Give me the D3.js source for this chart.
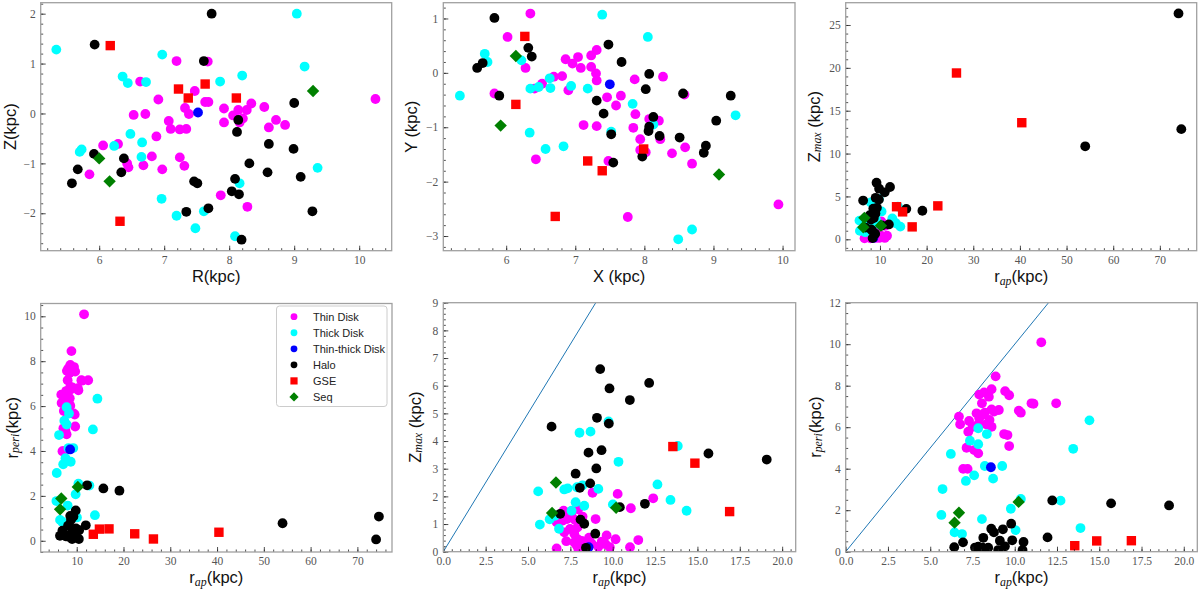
<!DOCTYPE html>
<html><head><meta charset="utf-8">
<script src="https://cdn.jsdelivr.net/npm/d3@7"></script>
<style>body{margin:0;background:#fff}svg{display:block}</style>
</head><body><svg id="c" width="1200" height="589"></svg>
<script>
// ---------- DATA: panel 1 (R, Z) ----------
const RZ_thin=[[7.19,1.05],[7.67,1.04],[6.63,0.64],[7.47,0.45],[6.91,0.28],[7.63,0.23],[7.68,0.23],[7.32,0.11],[7.92,0.10],[8.14,0.07],[8.27,0.07],[8.34,0.20],[8.54,0.13],[10.25,0.29],[6.53,-0.03],[6.71,-0.01],[7.38,-0.01],[8.06,-0.04],[8.21,-0.10],[8.16,-0.18],[7.07,-0.15],[7.10,-0.31],[7.24,-0.32],[7.34,-0.31],[7.92,-0.18],[8.61,-0.28],[8.72,-0.13],[8.86,-0.23],[6.88,-0.46],[6.06,-0.64],[6.29,-0.61],[6.81,-0.86],[7.24,-0.88],[6.43,-1.0],[6.45,-1.08],[6.68,-1.04],[7.31,-1.05],[6.97,-1.12],[5.85,-1.22],[7.87,-1.64],[8.28,-1.87]];
const RZ_thick=[[5.34,1.28],[6.97,1.18],[9.04,2.0],[9.16,0.94],[8.2,0.76],[7.86,0.64],[6.36,0.74],[6.44,0.61],[6.72,0.63],[6.48,-0.41],[6.66,-0.58],[6.23,-0.65],[5.73,-0.72],[5.70,-0.77],[6.65,-0.87],[9.36,-1.09],[8.16,-1.40],[6.96,-1.71],[7.19,-2.05],[7.61,-1.96],[7.48,-2.30],[8.09,-2.46]];
const RZ_tt=[[7.52,0.02]];
const RZ_halo=[[7.73,2.0],[5.93,1.38],[7.61,1.05],[9.0,0.21],[8.14,-0.13],[8.12,-0.37],[8.61,-0.61],[8.99,-0.71],[5.92,-0.81],[6.38,-0.90],[8.31,-1.0],[5.67,-1.12],[6.34,-1.18],[8.59,-1.18],[9.1,-1.27],[5.58,-1.40],[7.46,-1.36],[7.51,-1.40],[8.09,-1.31],[8.04,-1.56],[8.15,-1.62],[7.34,-1.97],[7.68,-1.90],[9.28,-1.96],[8.19,-2.53]];
const RZ_gse=[[6.17,1.36],[7.22,0.49],[7.37,0.31],[7.63,0.59],[8.11,0.31],[6.32,-2.16]];
const RZ_seq=[[6.0,-0.90],[6.16,-1.36],[9.29,0.45]];

// ---------- DATA: panel 2 (X, Y) ----------
const XY_thin=[[6.35,1.09],[6.02,0.66],[6.28,0.09],[5.83,-0.38],[6.41,-0.29],[6.52,-0.20],[6.69,-0.07],[6.81,-0.06],[6.86,0.25],[6.96,0.17],[6.90,-0.32],[7.04,0.29],[7.08,0.09],[7.23,0.32],[7.23,0.11],[7.31,0.42],[7.30,-0.01],[7.31,-0.14],[7.12,-0.96],[7.31,-0.98],[7.46,-0.45],[7.59,-0.60],[7.66,-0.42],[7.86,-0.12],[8.27,-0.07],[7.87,-0.76],[7.84,-1.01],[8.07,-0.85],[8.21,-0.88],[8.23,-1.22],[7.94,-1.22],[7.94,-1.42],[8.02,-1.46],[8.58,-0.40],[8.40,-1.48],[8.59,-1.37],[8.69,-1.67],[7.48,-1.62],[6.43,-1.59],[7.76,-2.65],[9.94,-2.42]];
const XY_thick=[[5.33,-0.42],[5.69,0.35],[5.73,0.20],[6.22,0.23],[6.35,-0.29],[6.47,-0.26],[6.63,-0.10],[6.64,-0.28],[6.94,-0.24],[7.18,-0.29],[7.39,1.07],[8.05,0.66],[7.83,-0.57],[8.13,-0.95],[9.32,-0.78],[6.34,-1.10],[6.57,-1.40],[6.83,-1.35],[7.52,-1.08],[8.49,-3.06],[8.69,-2.88]];
const XY_tt=[[7.50,-0.21]];
const XY_halo=[[5.83,1.01],[5.58,0.09],[5.66,0.18],[5.90,-0.42],[6.32,0.46],[6.37,0.30],[7.48,0.52],[7.67,0.20],[8.07,-0.02],[8.02,-0.30],[8.56,-0.38],[9.25,-0.42],[7.31,-0.51],[7.41,-0.75],[8.13,-0.81],[8.07,-0.99],[8.06,-1.07],[9.04,-0.88],[8.22,-1.16],[8.51,-1.19],[7.52,-1.13],[8.89,-1.34],[8.86,-1.47],[7.97,-1.54],[7.55,-1.65]];
const XY_gse=[[6.27,0.67],[6.14,-0.58],[7.18,-1.62],[7.39,-1.80],[7.99,-1.40],[6.71,-2.64]];
const XY_seq=[[6.14,0.31],[5.92,-0.97],[9.08,-1.87]];

// ---------- DATA: (r_ap, Z_max) panels 3 & 5 ----------
const ZM_thin=[[8.81,2.13],[10.29,2.09],[11.07,1.57],[12.39,1.93],[7.10,1.48],[7.53,1.42],[7.96,1.53],[6.69,1.06],[7.02,1.12],[7.30,1.18],[7.77,1.15],[7.48,0.82],[7.91,0.87],[7.14,0.70],[7.73,0.65],[8.99,1.18],[7.93,0.45],[8.60,0.51],[9.64,0.59],[7.26,0.38],[7.73,0.34],[8.17,0.39],[8.75,0.30],[9.35,0.36],[9.58,0.27],[10.17,0.45],[11.02,0.16],[11.51,0.42],[6.69,0.12],[7.96,0.12],[9.15,0.18],[9.83,0.16],[8.30,0.22],[8.50,0.35],[7.60,1.25],[8.22,1.27],[7.85,0.25]];
const ZM_thick=[[5.60,2.18],[5.70,0.98],[6.28,1.17],[6.59,1.30],[6.83,0.83],[7.14,2.25],[7.34,2.29],[7.57,1.48],[7.81,1.79],[7.89,2.33],[8.04,4.30],[8.69,4.34],[8.22,2.40],[8.32,1.66],[9.15,2.27],[9.75,4.71],[10.34,3.25],[10.01,1.71],[12.64,2.43],[13.41,1.87],[13.84,3.82],[14.36,1.48]];
const ZM_tt=[[8.58,0.16]];
const ZM_halo=[[9.26,6.60],[9.81,5.90],[12.15,6.10],[11.01,5.48],[9.07,4.84],[9.77,4.63],[6.39,4.52],[8.57,3.58],[9.34,3.67],[9.03,3.01],[15.65,3.55],[19.09,3.33],[7.81,2.82],[8.67,2.47],[8.06,2.31],[11.90,1.73],[10.42,1.61],[6.90,1.37],[8.10,1.16],[8.32,1.01],[8.97,0.65],[8.42,0.14],[54.0,10.85],[74.0,26.35],[74.6,12.85]];
const ZM_gse=[[13.55,3.8],[14.85,3.2],[16.9,1.45],[22.4,3.9],[26.4,19.4],[40.4,13.6]];
const ZM_seq=[[6.65,2.5],[6.42,1.40],[10.2,1.59]];

// ---------- DATA: (r_ap, r_peri) panels 4 & 6 ----------
const RP_thin=[[11.57,10.09],[8.87,8.45],[8.63,7.83],[7.90,7.57],[8.19,7.68],[8.47,7.47],[8.06,7.15],[9.43,7.74],[9.67,7.54],[10.99,7.15],[11.11,7.13],[12.45,7.15],[6.70,6.51],[6.77,6.14],[7.30,6.30],[7.74,6.67],[7.90,6.43],[8.07,6.59],[8.23,6.70],[8.63,6.86],[8.78,6.75],[9.06,6.83],[8.51,6.35],[8.63,6.02],[7.51,6.02],[7.25,5.78],[10.24,6.80],[10.36,6.70],[9.37,5.67],[9.57,5.62],[9.67,5.09],[7.15,5.01],[7.60,4.90],[7.84,4.74],[6.95,3.99],[7.21,3.99],[7.84,6.14],[8.31,6.14]];
const RP_thick=[[14.42,6.33],[13.46,4.96],[6.22,4.71],[5.73,3.02],[5.66,1.77],[6.44,0.93],[6.88,0.85],[7.35,5.35],[7.84,5.95],[8.35,5.67],[7.84,5.18],[8.23,4.13],[9.26,4.13],[7.11,3.41],[7.60,3.68],[8.72,3.52],[8.06,1.57],[9.77,2.07],[10.36,2.54],[12.71,2.46],[10.05,1.04],[13.89,1.14]];
const RP_tt=[[8.59,4.07]];
const RP_halo=[[12.22,2.47],[15.70,2.33],[19.13,2.23],[9.79,1.35],[8.61,1.11],[8.77,0.93],[9.30,1.08],[9.12,0.53],[8.14,0.67],[9.85,0.55],[10.52,0.47],[11.94,0.69],[6.42,0.22],[6.94,0.45],[7.84,0.24],[8.10,0.19],[8.43,0.19],[9.02,0.08],[9.42,0.26],[10.46,0.08],[7.65,0.20],[54.0,0.78],[74.0,0.06],[74.6,1.08]];
const RP_gse=[[13.55,0.29],[14.85,0.52],[16.9,0.53],[22.4,0.31],[26.4,0.08],[40.4,0.38]];
const RP_seq=[[6.70,1.88],[6.44,1.40],[10.23,2.40]];

// ---------- tick labels ----------
const T_POS_X=[6,7,8,9,10];
const T_P1_Y=[-2,-1,0,1,2];
const T_P2_Y=[-3,-2,-1,0,1];
const T_WIDE_X=[10,20,30,40,50,60,70];
const T_P3_Y=[0,5,10,15,20,25];
const T_P4_Y=[0,2,4,6,8,10];
const T_ZOOM_X=[0,2.5,5,7.5,10,12.5,15,17.5,20];
const T_P5_Y=[0,1,2,3,4,5,6,7,8,9];
const T_P6_Y=[0,2,4,6,8,10,12];
const LINE_1TO1=[[0,0],[30,30]];

const GROUPS=['thin','thick','tt','halo','gse','seq'];
const LABELS={thin:'Thin Disk',thick:'Thick Disk',tt:'Thin-thick Disk',halo:'Halo',gse:'GSE',seq:'Seq'};
const STYLE={thin:{c:'#ff00ff',s:'o'},thick:{c:'#00ffff',s:'o'},tt:{c:'#0000ff',s:'o'},halo:{c:'#000000',s:'o'},gse:{c:'#ff0000',s:'sq'},seq:{c:'#008000',s:'d'}};

const SERIF='"Liberation Serif","DejaVu Serif",serif';
const SANS='"Liberation Sans","Arial",sans-serif';
const LBL=16.5, TICKF=11.5;
const svg=d3.select('#c');

const ZMAX=[{t:'Z'},{t:'max',sub:1},{t:' (kpc)'}];
const RAP=[{t:'r'},{t:'ap',sub:1},{t:'(kpc)'}];
const RPERI=[{t:'r'},{t:'peri',sub:1},{t:'(kpc)'}];

const PANELS=[
 {box:[40.7,2.7,391.7,250.7],xd:[5.1,10.5],yd:[-2.75,2.22],xt:T_POS_X,yt:T_P1_Y,xm:0.2,ym:0.2,
  data:{thin:RZ_thin,thick:RZ_thick,tt:RZ_tt,halo:RZ_halo,gse:RZ_gse,seq:RZ_seq},xl:[{t:'R(kpc)'}],yl:[{t:'Z(kpc)'}],ylx:10},
 {box:[443.3,2.7,795,250.7],xd:[5.09,10.18],yd:[-3.27,1.29],xt:T_POS_X,yt:T_P2_Y,xm:0.2,ym:0.2,
  data:{thin:XY_thin,thick:XY_thick,tt:XY_tt,halo:XY_halo,gse:XY_gse,seq:XY_seq},xl:[{t:'X (kpc)'}],yl:[{t:'Y (kpc)'}],ylx:411},
 {box:[845.7,2.7,1196.7,250.7],xd:[2.65,77.9],yd:[-1.33,27.6],xt:T_WIDE_X,yt:T_P3_Y,xm:2,ym:1,
  data:{thin:ZM_thin,thick:ZM_thick,tt:ZM_tt,halo:ZM_halo,gse:ZM_gse,seq:ZM_seq},xl:RAP,yl:ZMAX,ylx:814},
 {box:[40.7,303.5,392,552],xd:[2.3,77.4],yd:[-0.5,10.57],xt:T_WIDE_X,yt:T_P4_Y,xm:2,ym:0.5,
  data:{thin:RP_thin,thick:RP_thick,tt:RP_tt,halo:RP_halo,gse:RP_gse,seq:RP_seq},xl:RAP,yl:RPERI,ylx:12,legend:true},
 {box:[443.3,302.7,795.7,551.7],xd:[0,20.8],yd:[0,9],xt:T_ZOOM_X,yt:T_P5_Y,xm:0.5,ym:0.2,xf:'.1f',
  data:{thin:ZM_thin,thick:ZM_thick,tt:ZM_tt,halo:ZM_halo,gse:ZM_gse,seq:ZM_seq},xl:RAP,yl:ZMAX,ylx:415,line:true},
 {box:[845.7,302.7,1197.3,551.7],xd:[0,20.8],yd:[0,12],xt:T_ZOOM_X,yt:T_P6_Y,xm:0.5,ym:0.5,xf:'.1f',
  data:{thin:RP_thin,thick:RP_thick,tt:RP_tt,halo:RP_halo,gse:RP_gse,seq:RP_seq},xl:RAP,yl:RPERI,ylx:815,line:true}
];

function minorVals(d,step){const a=Math.min(...d),b=Math.max(...d);const out=[];for(let k=Math.ceil(a/step-1e-9);k*step<=b+1e-9;k++)out.push(+(k*step).toFixed(6));return out;}

function marker(sel,shape,color,size){
  if(shape==='o') return sel.append('circle').attr('r',size).attr('fill',color);
  if(shape==='sq') return sel.append('rect').attr('x',-size).attr('y',-size).attr('width',2*size).attr('height',2*size).attr('fill',color);
  return sel.append('path').attr('d',`M0,${-size}L${size},0L0,${size}L${-size},0Z`).attr('fill',color);
}

function richText(t,segs,size){
  let wasSub=false;
  segs.forEach(s=>{
    const ts=t.append('tspan').text(s.t);
    if(s.sub){ts.attr('font-family',SERIF).attr('font-style','italic').attr('font-size',size*0.72).attr('dy',size*0.2);wasSub=true;}
    else if(wasSub){ts.attr('dy',-size*0.2);wasSub=false;}
  });
}

PANELS.forEach((p,i)=>{
  const [x0,y0,x1,y1]=p.box;
  const x=d3.scaleLinear().domain(p.xd).range([x0,x1]);
  const y=d3.scaleLinear().domain(p.yd).range([y1,y0]);
  const g=svg.append('g');
  const cid='clip'+i;
  svg.append('clipPath').attr('id',cid).append('rect').attr('x',x0).attr('y',y0).attr('width',x1-x0).attr('height',y1-y0);
  const pg=g.append('g').attr('clip-path',`url(#${cid})`);
  if(p.line){
    pg.append('path').attr('d',d3.line().x(d=>x(d[0])).y(d=>y(d[1]))(LINE_1TO1)).attr('stroke','#1f77b4').attr('stroke-width',1).attr('fill','none');
  }
  GROUPS.forEach(k=>{
    const st=STYLE[k];
    const sz=st.s==='o'?4.9:(st.s==='sq'?4.7:6.2);
    pg.append('g').selectAll('g').data(p.data[k]).join('g')
      .attr('transform',d=>`translate(${x(d[0])},${y(d[1])})`)
      .each(function(){marker(d3.select(this),st.s,st.c,sz);});
  });
  const styleAx=(a)=>{a.select('.domain').remove();a.attr('font-family',SERIF).attr('font-size',TICKF);
    a.selectAll('line').attr('stroke','#222').attr('stroke-width',0.8);a.selectAll('text').attr('fill','#555');};
  const fx=p.xf?d3.format(p.xf):d3.format('d');
  const fy=d3.format('d');
  g.append('g').attr('transform',`translate(0,${y1})`).call(d3.axisBottom(x).tickValues(minorVals(p.xd,p.xm)).tickSize(-2.5).tickFormat('')).call(styleAx);
  g.append('g').attr('transform',`translate(${x0},0)`).call(d3.axisLeft(y).tickValues(minorVals(p.yd,p.ym)).tickSize(-2.5).tickFormat('')).call(styleAx);
  g.append('g').attr('transform',`translate(0,${y1})`).call(d3.axisBottom(x).tickValues(p.xt).tickSize(-5).tickPadding(5).tickFormat(fx)).call(styleAx);
  g.append('g').attr('transform',`translate(${x0},0)`).call(d3.axisLeft(y).tickValues(p.yt).tickSize(-5).tickPadding(5).tickFormat(fy)).call(styleAx);
  g.append('rect').attr('x',x0).attr('y',y0).attr('width',x1-x0).attr('height',y1-y0).attr('fill','none').attr('stroke','#a0a0a0').attr('stroke-width',1.3);
  const xl=g.append('text').attr('x',(x0+x1)/2).attr('y',y1+31).attr('text-anchor','middle').attr('font-family',SANS).attr('font-size',LBL).attr('fill','#111');
  richText(xl,p.xl,LBL);
  const yl=g.append('text').attr('transform',`translate(${p.ylx},${(y0+y1)/2}) rotate(-90)`).attr('text-anchor','middle').attr('dominant-baseline','central').attr('font-family',SANS).attr('font-size',LBL).attr('fill','#111');
  richText(yl,p.yl,LBL);
  if(p.legend){
    const lg=g.append('g');
    lg.append('rect').attr('x',276.5).attr('y',306).attr('width',110.5).attr('height',100.5).attr('rx',3)
      .attr('fill','#fff').attr('fill-opacity',0.85).attr('stroke','#cccccc').attr('stroke-width',1);
    GROUPS.forEach((k,j)=>{
      const yy=316.7+j*16.05;
      const st=STYLE[k];
      const mg=lg.append('g').attr('transform',`translate(294,${yy})`);
      marker(mg,st.s,st.c,st.s==='o'?3.4:(st.s==='sq'?3.6:4.6));
      lg.append('text').attr('x',313).attr('y',yy).attr('dominant-baseline','central').attr('font-family',SANS).attr('font-size',11).attr('fill','#222').text(LABELS[k]);
    });
  }
});
</script></body></html>
